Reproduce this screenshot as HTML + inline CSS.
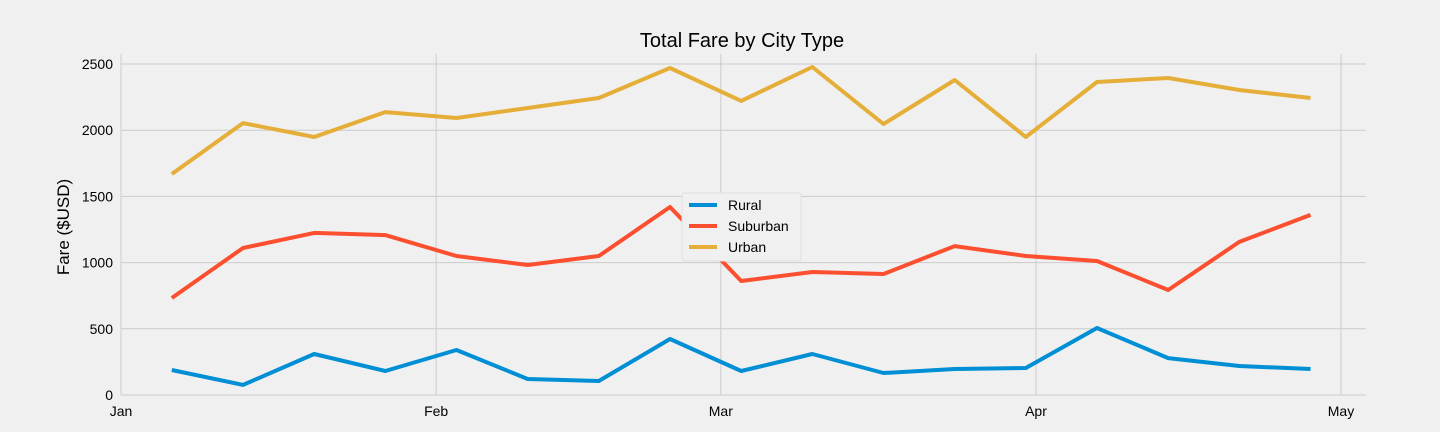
<!DOCTYPE html>
<html><head><meta charset="utf-8"><style>
html,body{margin:0;padding:0;background:#f0f0f0;}
svg{display:block;font-family:"Liberation Sans","DejaVu Sans",sans-serif;}
</style></head><body>
<svg id="chart" width="1440" height="432">
<rect width="1440" height="432" fill="#f0f0f0"/>
<text x="742" y="47" font-size="20" text-anchor="middle" fill="#000">Total Fare by City Type</text>
<text transform="translate(69,227) rotate(-90)" font-size="17" text-anchor="middle" fill="#000">Fare ($USD)</text>
<g id="grid"></g>
<g id="series"></g>
<g id="legend"></g>
</svg>
<script>
const dayOffsets = [5,12,19,26,33,40,47,54,61,68,75,82,89,96,103,110,117];
const rural = [189,76,310,181,340,121,106,423,181,310,166,196,204,506,279,219,196];
const suburban = [733,1110,1224,1208,1050,982,1050,1420,861,929,914,1125,1050,1012,793,1156,1360];
const urban = [1669,2054,1949,2137,2092,2168,2243,2470,2221,2477,2047,2379,1949,2364,2394,2304,2243];
const seriesNames = ["Rural","Suburban","Urban"];
const seriesColors = ["#008fd5","#fc4f30","#e5ae38"];
const yTicks = [0,500,1000,1500,2000,2500];
const xTickDays = [0,31,59,90,120];
const xTickLabels = ["Jan","Feb","Mar","Apr","May"];

const NS="http://www.w3.org/2000/svg";
const L=121,R=1366,T=54,B=395;
const xS=d=>121+d*(1341-121)/120;
const yS=v=>395-v*(331/2500);
function mk(tag,attrs,parent){const e=document.createElementNS(NS,tag);for(const k in attrs)e.setAttribute(k,attrs[k]);parent.appendChild(e);return e;}
const grid=document.getElementById('grid');
yTicks.forEach(v=>{
  const ln=mk('line',{x1:L,x2:R,y1:yS(v),y2:yS(v),stroke:'#cbcbcb','stroke-width':1},grid);
  
  
  const t=mk('text',{x:L-8,y:yS(v)+5,'text-anchor':'end','font-size':14,fill:'#000'},grid);
  t.textContent=v;
  
  
});
xTickDays.forEach((d,i)=>{
  const ln=mk('line',{x1:xS(d),x2:xS(d),y1:T,y2:B,stroke:'#cbcbcb','stroke-width':1},grid);
  
  
  const t=mk('text',{x:xS(d),y:B+21,'text-anchor':'middle','font-size':14,fill:'#000'},grid);
  t.textContent=xTickLabels[i];
  
  
});
const sg=document.getElementById('series');
[rural,suburban,urban].forEach((arr,i)=>{
  const pts=arr.map((v,j)=>xS(dayOffsets[j]).toFixed(1)+','+yS(v).toFixed(1)).join(' ');
  const p=mk('polyline',{points:pts,fill:'none',stroke:seriesColors[i],'stroke-width':4,'stroke-linejoin':'round'},sg);
  
  
});
const lg=document.getElementById('legend');
const box=mk('rect',{x:682,y:193,width:119,height:68,fill:'#f0f0f0',stroke:'#e0e0e0','stroke-width':1,rx:3},lg);


seriesNames.forEach((n,i)=>{
  const y=205+i*21;
  const ln=mk('line',{x1:689,x2:717,y1:y,y2:y,stroke:seriesColors[i],'stroke-width':4},lg);
  
  
  const t=mk('text',{x:728,y:y+5,'font-size':14,fill:'#000'},lg);
  t.textContent=n;
  
  
});
</script>
</body></html>
